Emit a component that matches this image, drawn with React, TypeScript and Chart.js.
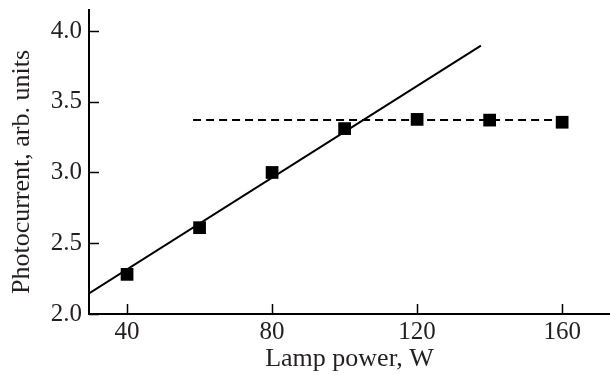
import React, { useEffect, useRef } from "react";
import { Chart, registerables } from "chart.js";

Chart.register(...registerables);

const lampPower = [40, 60, 80, 100, 120, 140, 160];
const photocurrent = [2.28, 2.61, 3.0, 3.31, 3.375, 3.37, 3.355];
const fitLineX = [29.5, 137.6];
const fitLineY = [2.146, 3.896];
const plateauX = [58.2, 160.5];
const plateauY = [3.37, 3.37];
const xTicks = [40, 80, 120, 160];
const yTicks = [2.0, 2.5, 3.0, 3.5, 4.0];

const FONT = "'Liberation Serif', 'Times New Roman', serif";
const TEXT = "#231f20";

const inwardTicks = {
  id: "inwardTicks",
  afterDatasetsDraw(chart: any) {
    const { ctx, chartArea, scales } = chart;
    ctx.save();
    ctx.strokeStyle = "#000";
    ctx.lineWidth = 1.5;
    scales.x.ticks.forEach((t: any) => {
      const px = Math.round(scales.x.getPixelForValue(t.value)) + 0.5;
      ctx.beginPath();
      ctx.moveTo(px, chartArea.bottom);
      ctx.lineTo(px, chartArea.bottom - 10);
      ctx.stroke();
    });
    scales.y.ticks.forEach((t: any) => {
      const py = Math.round(scales.y.getPixelForValue(t.value)) + 0.5;
      ctx.beginPath();
      ctx.moveTo(chartArea.left, py);
      ctx.lineTo(chartArea.left + 10, py);
      ctx.stroke();
    });
    ctx.restore();
  },
};

const yTitle = {
  id: "yTitle",
  afterDraw(chart: any) {
    const { ctx, chartArea } = chart;
    ctx.save();
    ctx.translate(22, (chartArea.top + chartArea.bottom) / 2 + 10);
    ctx.rotate(-Math.PI / 2);
    ctx.font = `26px ${FONT}`;
    ctx.fillStyle = TEXT;
    ctx.textAlign = "center";
    ctx.textBaseline = "middle";
    ctx.fillText("Photocurrent, arb. units", 0, 0);
    ctx.restore();
  },
};

export default function App() {
  const ref = useRef<HTMLCanvasElement>(null);

  useEffect(() => {
    if (!ref.current) return;
    const chart = new Chart(ref.current, {
      type: "scatter",
      data: {
        datasets: [
          {
            label: "Measured",
            data: lampPower.map((x, i) => ({ x, y: photocurrent[i] })),
            pointStyle: "rect",
            pointRadius: 9,
            pointHoverRadius: 9,
            backgroundColor: "#000",
            borderColor: "#000",
            borderWidth: 0,
            showLine: false,
            order: 0,
          },
          {
            label: "Linear fit",
            data: fitLineX.map((x, i) => ({ x, y: fitLineY[i] })),
            showLine: true,
            pointRadius: 0,
            borderColor: "#000",
            borderWidth: 2,
            order: 1,
          },
          {
            label: "Saturation",
            data: plateauX.map((x, i) => ({ x, y: plateauY[i] })),
            showLine: true,
            pointRadius: 0,
            borderColor: "#000",
            borderWidth: 2,
            borderDash: [8, 5],
            order: 2,
          },
        ],
      },
      options: {
        animation: false,
        responsive: true,
        maintainAspectRatio: false,
        layout: { autoPadding: false, padding: { left: 29, top: 10, right: 0, bottom: 0 } },
        plugins: { legend: { display: false }, tooltip: { enabled: false } },
        scales: {
          x: {
            type: "linear",
            min: 29.5,
            max: 173.2,
            afterBuildTicks: (s: any) => {
              s.ticks = xTicks.map((v) => ({ value: v }));
            },
            afterFit: (s: any) => {
              s.height = 61;
              s.paddingLeft = 0;
              s.paddingRight = 0;
            },
            grid: { display: false, drawTicks: false },
            border: { display: true, color: "#000", width: 2 },
            ticks: {
              padding: 3,
              color: TEXT,
              font: { family: FONT, size: 25 },
              maxRotation: 0,
              callback: (v: any) => String(v),
            },
            title: {
              display: true,
              text: "Lamp power, W",
              color: TEXT,
              font: { family: FONT, size: 26 },
              padding: { top: 0, bottom: 0 },
            },
          },
          y: {
            type: "linear",
            min: 2.0,
            max: 4.148,
            afterBuildTicks: (s: any) => {
              s.ticks = yTicks.map((v) => ({ value: v }));
            },
            afterFit: (s: any) => {
              s.width = 60;
              s.paddingTop = 0;
              s.paddingBottom = 0;
            },
            grid: { display: false, drawTicks: false },
            border: { display: true, color: "#000", width: 2 },
            ticks: {
              padding: 7,
              color: TEXT,
              font: { family: FONT, size: 25 },
              callback: (v: any) => Number(v).toFixed(1),
            },
          },
        },
      },
      plugins: [inwardTicks, yTitle],
    });
    return () => chart.destroy();
  }, []);

  return (
    <div style={{ position: "absolute", left: 0, top: 0, width: 610, height: 375, background: "#fff" }}>
      <canvas ref={ref} />
    </div>
  );
}
